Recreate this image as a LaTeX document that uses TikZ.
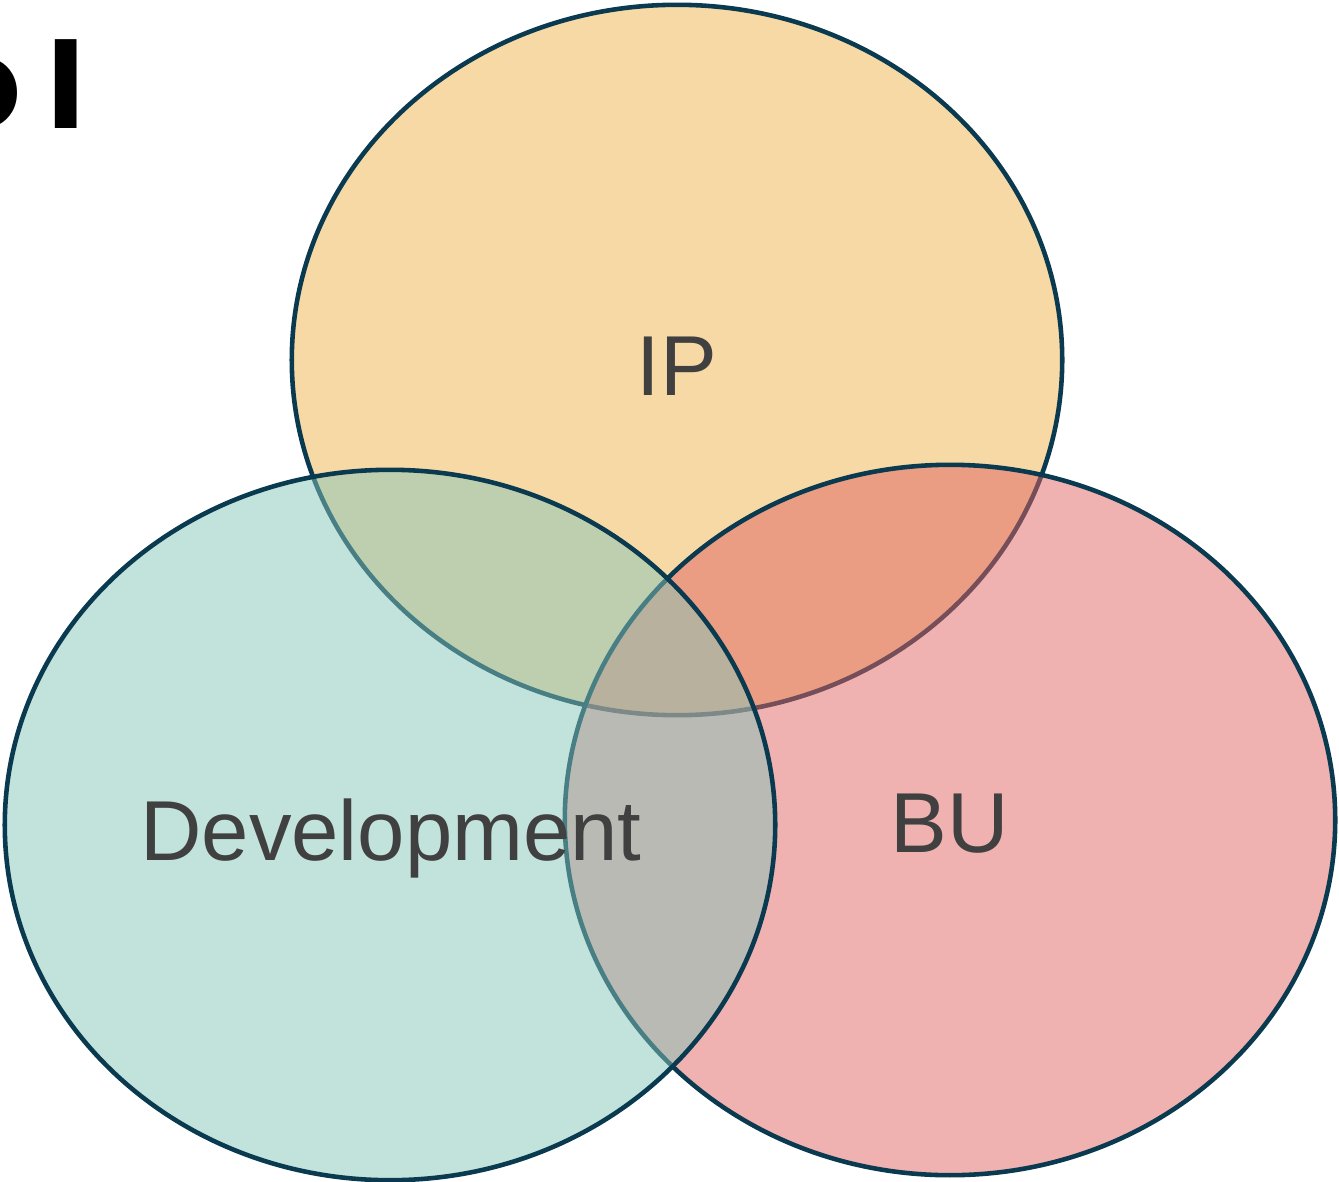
\documentclass[tikz,border=0pt]{standalone}
\usepackage{fontspec}
\setmainfont{Liberation Sans}
\newfontfamily\titlefont{Poppins}
\definecolor{ipfill}{HTML}{EDB34B}
\definecolor{devfill}{HTML}{85C5B9}
\definecolor{bufill}{HTML}{E16363}
\definecolor{rim}{HTML}{0A3A4F}
\definecolor{labelgrey}{HTML}{404040}
\tikzset{
  set/.style={draw=rim,line width=1.3pt,fill opacity=0.5},
  setlabel/.style={anchor=base,text=labelgrey,font=\fontsize{24.2}{29}\selectfont}
}
\begin{document}
\begin{tikzpicture}[x=0.01cm,y=-0.01cm]%
  \pgfmathsetmacro{\rx}{3.85}
  \pgfmathsetmacro{\ry}{3.55}
  \useasboundingbox (0,0) rectangle (1339,1182);
  \coordinate (ip) at (677,360);
  \coordinate (bu) at (950,820);
  \coordinate (dev) at (390,825);
  % the three sets
  \draw[set,fill=ipfill] (ip) ellipse [x radius=\rx cm,y radius=\ry cm];
  \draw[set,fill=bufill] (bu) ellipse [x radius=\rx cm,y radius=\ry cm];
  \draw[set,fill=devfill] (dev) ellipse [x radius=\rx cm,y radius=\ry cm];
  % labels
  \node[setlabel] (iplabel) at (677,395) {IP};
  \node[setlabel] (bulabel) at (950,852) {BU};
  \node[setlabel] (devlabel) at (391,860) {Development};
  \node[anchor=base east,inner sep=0,font=\titlefont\bfseries\fontsize{36}{40}\selectfont] (title) at (86,129) {o I};
\end{tikzpicture}
\end{document}
